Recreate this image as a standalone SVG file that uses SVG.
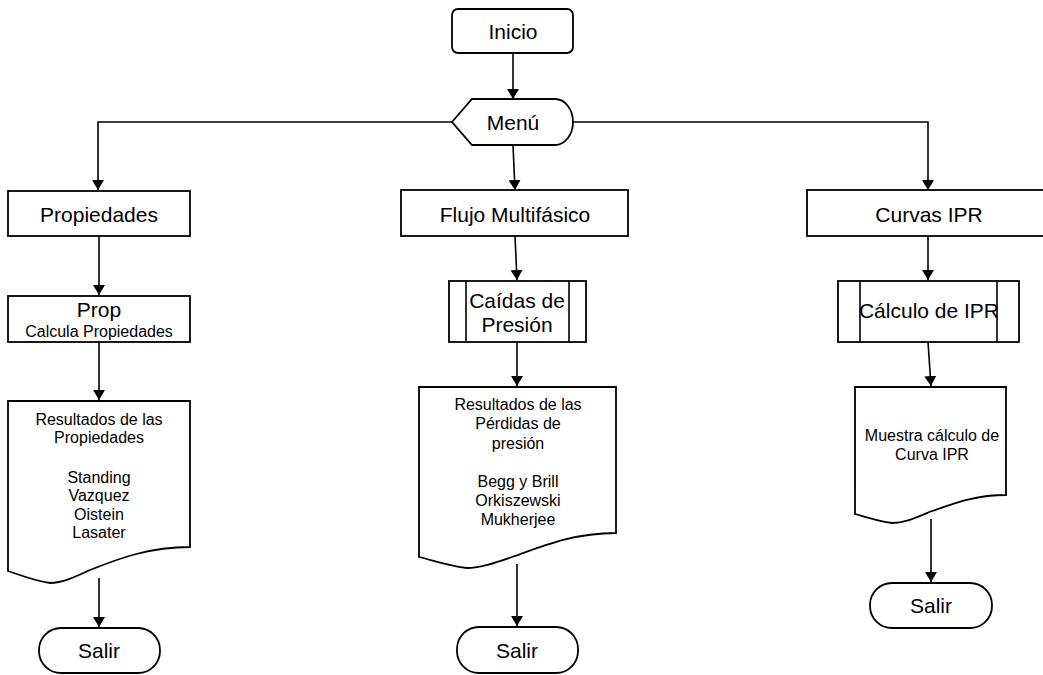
<svg xmlns="http://www.w3.org/2000/svg" width="1043" height="675" viewBox="0 0 1043 675">
<defs>
<marker id="ah" viewBox="0 0 10 12" refX="10" refY="6" markerWidth="10" markerHeight="12" markerUnits="userSpaceOnUse" orient="auto">
<path d="M0,0 L10,6 L0,12 Z" fill="#000"/>
</marker>
<style>
.s{fill:#fff;stroke:#000;stroke-width:1.8}
.c{fill:none;stroke:#000;stroke-width:1.6;marker-end:url(#ah)}
.l{fill:none;stroke:#000;stroke-width:1.6}
text{font-family:"Liberation Sans",Arial,sans-serif;fill:#000;text-anchor:middle}
.t{font-size:21px}
.m{font-size:16px}
</style>
</defs>
<rect width="1043" height="675" fill="#fff"/>
<g id="connectors">
<path class="c" d="M513,53 V99"/>
<path class="c" d="M452,122 H98 V190"/>
<path class="c" d="M573,122 H928 V190"/>
<path class="c" d="M513,145 L515,190"/>
<path class="c" d="M99,236 V295"/>
<path class="c" d="M99,342 V400"/>
<path class="c" d="M99,578 V627"/>
<path class="c" d="M515,236 L517,280"/>
<path class="c" d="M517,342 V386"/>
<path class="c" d="M517,564 V626"/>
<path class="c" d="M928,236 V280"/>
<path class="c" d="M928,342 L931,386"/>
<path class="c" d="M931,519 V582"/>
</g>
<g id="inicio">
<rect class="s" x="452" y="9" width="121" height="44" rx="6"/>
<text class="t" x="513" y="39">Inicio</text>
</g>
<g id="menu">
<path class="s" d="M452,122 L472,99 H555 A18,23 0 0 1 555,145 H472 Z"/>
<text class="t" x="513" y="130">Menú</text>
</g>
<g id="propiedades">
<rect class="s" x="8" y="191" width="182" height="45"/>
<text class="t" x="99" y="222">Propiedades</text>
</g>
<g id="prop">
<rect class="s" x="8" y="296" width="182" height="46"/>
<text class="t" x="99" y="317">Prop</text>
<text class="m" x="99" y="337">Calcula Propiedades</text>
</g>
<g id="resultados-prop">
<path class="s" d="M8,401 H190 V547 C150,547 120,558 90,570 C75,577 62,583 50,583 C35,581 20,575 8,571 Z"/>
<text class="m" x="99" y="425">Resultados de las</text>
<text class="m" x="99" y="443">Propiedades</text>
<text class="m" x="99" y="483">Standing</text>
<text class="m" x="99" y="501">Vazquez</text>
<text class="m" x="99" y="520">Oistein</text>
<text class="m" x="99" y="538">Lasater</text>
</g>
<g id="salir1">
<rect class="s" x="39" y="628" width="121" height="45" rx="22"/>
<text class="t" x="99" y="658">Salir</text>
</g>
<g id="flujo">
<rect class="s" x="401" y="190" width="227" height="46"/>
<text class="t" x="515" y="222">Flujo Multifásico</text>
</g>
<g id="caidas">
<rect class="s" x="449" y="281" width="137" height="61"/>
<path class="l" d="M466,281 V342 M569,281 V342"/>
<text class="t" x="517" y="308">Caídas de</text>
<text class="t" x="517" y="332">Presión</text>
</g>
<g id="resultados-perdidas">
<path class="s" d="M419,387 H616 V533 C575,533 545,545 515,556 C495,563 480,568 467,568 C450,566 435,561 419,557 Z"/>
<text class="m" x="518" y="410">Resultados de las</text>
<text class="m" x="518" y="429">Pérdidas de</text>
<text class="m" x="518" y="449">presión</text>
<text class="m" x="518" y="487">Begg y Brill</text>
<text class="m" x="518" y="506">Orkiszewski</text>
<text class="m" x="518" y="525">Mukherjee</text>
</g>
<g id="salir2">
<rect class="s" x="457" y="627" width="121" height="46" rx="22"/>
<text class="t" x="517" y="658">Salir</text>
</g>
<g id="curvas">
<rect class="s" x="807" y="190" width="244" height="46"/>
<text class="t" x="929" y="222">Curvas IPR</text>
</g>
<g id="calculo">
<rect class="s" x="838" y="281" width="181" height="61"/>
<path class="l" d="M860,281 V342 M997,281 V342"/>
<text class="t" x="929" y="318">Cálculo de IPR</text>
</g>
<g id="muestra">
<path class="s" d="M855,387 H1006 V495 C975,495 955,503 932,511 C915,518 905,523 892,523 C878,521 866,517 855,514 Z"/>
<text class="m" x="932" y="441">Muestra cálculo de</text>
<text class="m" x="932" y="460">Curva IPR</text>
</g>
<g id="salir3">
<rect class="s" x="870" y="583" width="122" height="45" rx="22"/>
<text class="t" x="931" y="613">Salir</text>
</g>
</svg>
